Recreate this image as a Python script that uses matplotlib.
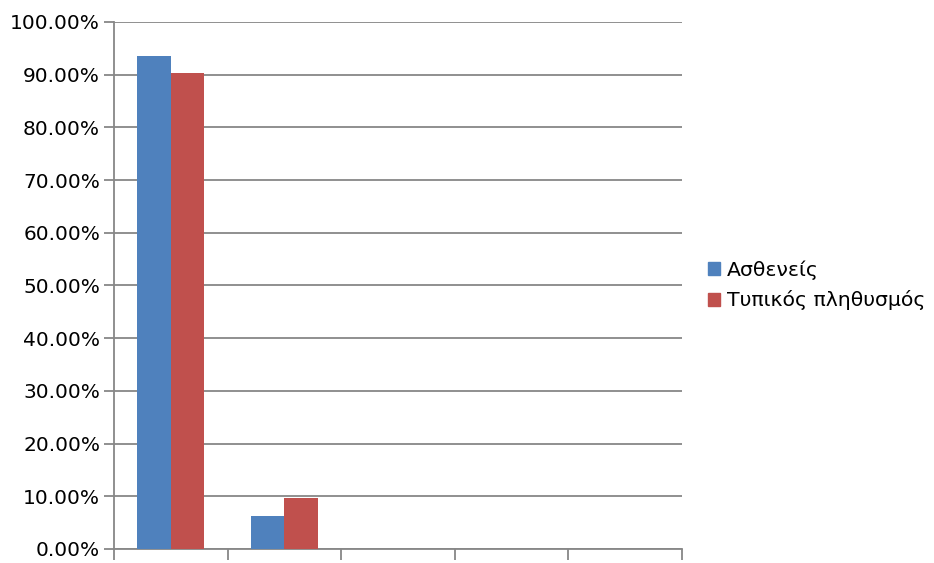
import matplotlib.pyplot as plt
import numpy as np
from matplotlib.patches import Patch
from matplotlib.ticker import FuncFormatter

categories = ["", "", "", "", ""]
patients = [93.5, 6.3, 0.0, 0.0, 0.0]
population = [90.4, 9.7, 0.0, 0.0, 0.0]
series_names = ["Ασθενείς", "Τυπικός πληθυσμός"]

BLUE = "#4f81bd"
RED = "#c0504d"
GRID = "#878787"

fig = plt.figure(figsize=(9.34, 5.63), dpi=100)
ax = fig.add_axes([0.122, 0.025, 0.608, 0.936])

x = np.arange(len(categories))
w = 0.293
ax.bar(x - w / 2, patients, width=w, color=BLUE, zorder=3)
ax.bar(x + w / 2, population, width=w, color=RED, zorder=3)

ax.set_xlim(-0.5, len(categories) - 0.5)
ax.set_ylim(0, 100)
ax.set_yticks(np.arange(0, 101, 10))
ax.yaxis.set_major_formatter(FuncFormatter(lambda v, _: f"{v:.2f}%"))
ax.set_xticks(np.arange(-0.5, len(categories), 1.0))
ax.set_xticklabels([])

ax.grid(axis="y", color=GRID, linewidth=1.3, zorder=0)
for side in ["top", "right"]:
    ax.spines[side].set_visible(False)
for side in ["left", "bottom"]:
    ax.spines[side].set_color(GRID)
    ax.spines[side].set_linewidth(1.3)
ax.tick_params(axis="y", length=7, width=1.3, color=GRID, labelsize=14.5, pad=3)
ax.tick_params(axis="x", length=8, width=1.3, color=GRID)

handles = [Patch(color=BLUE), Patch(color=RED)]
fig.legend(handles, series_names, loc="center left", bbox_to_anchor=(0.747, 0.493),
           frameon=False, fontsize=14.7, handlelength=0.6, handleheight=0.6,
           handletextpad=0.35, labelspacing=0.5, borderpad=0)

fig.savefig("out.png", dpi=100)
